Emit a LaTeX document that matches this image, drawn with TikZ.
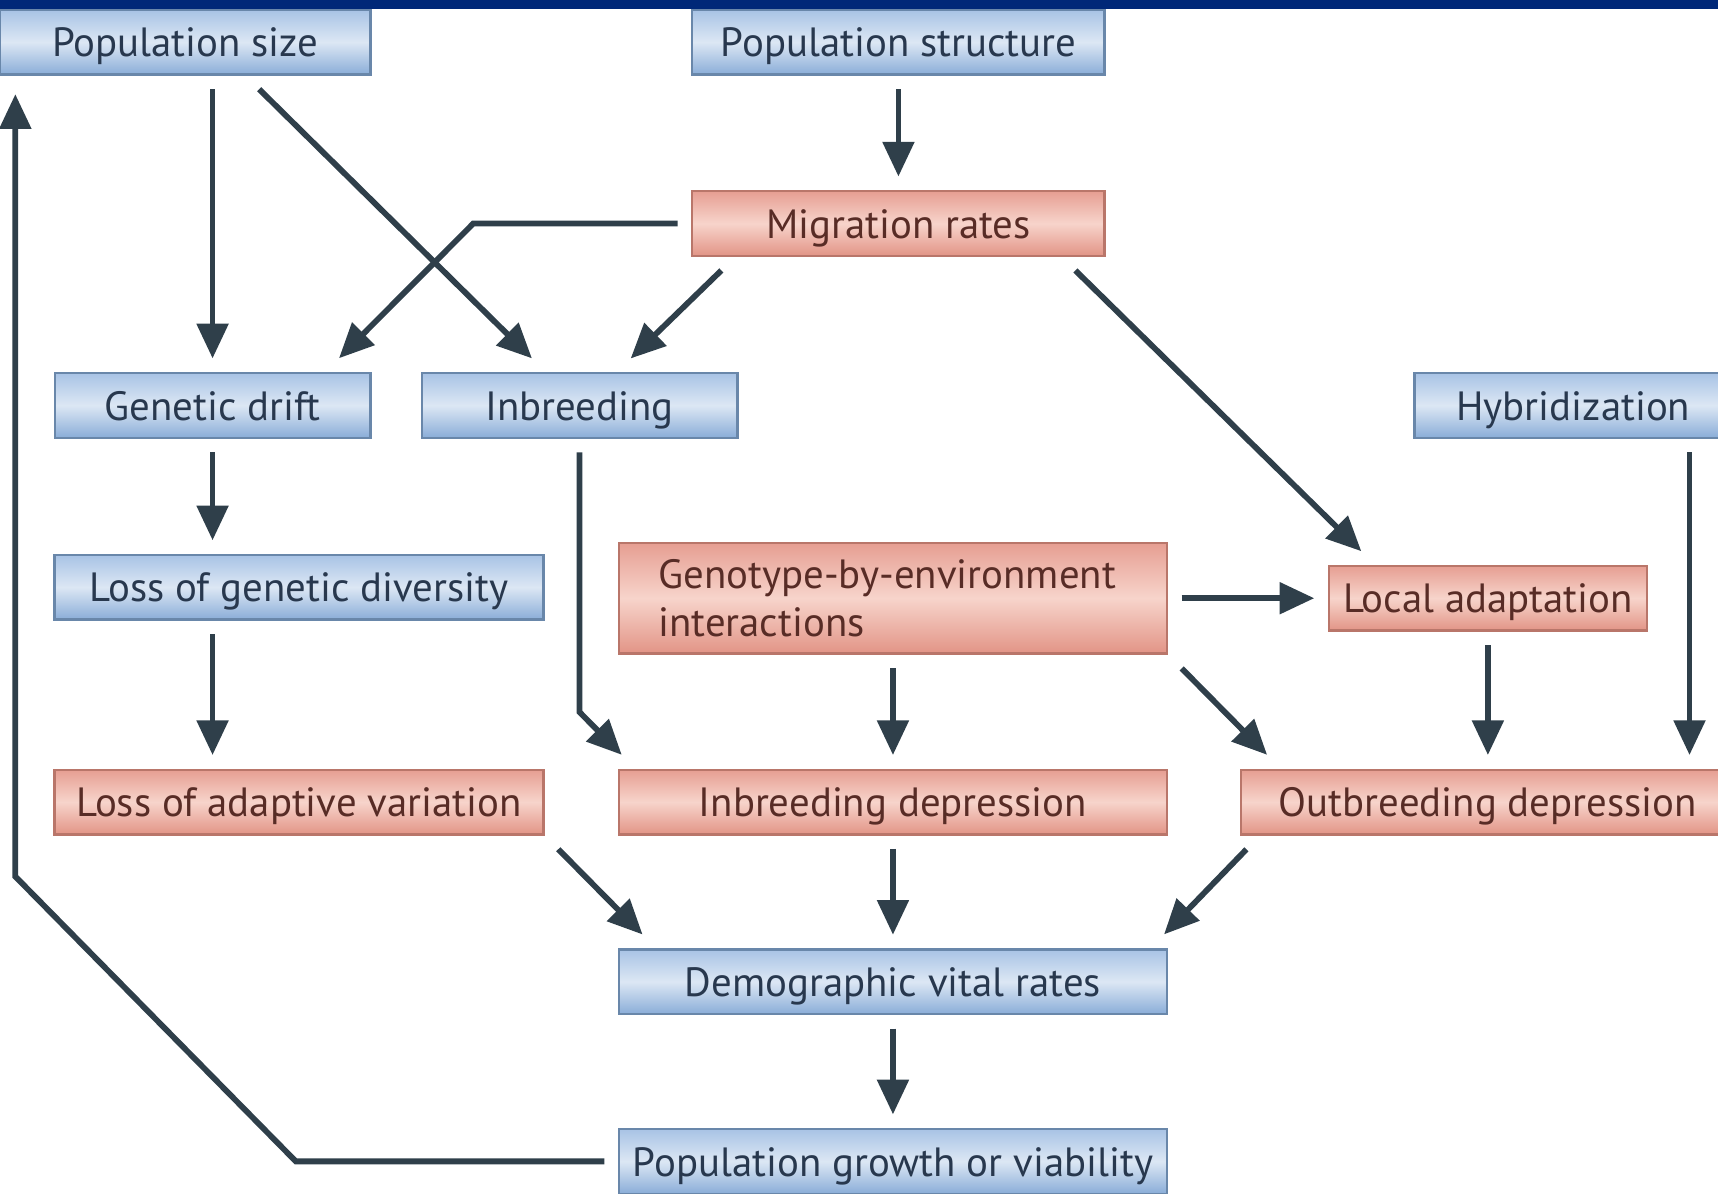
\documentclass[tikz,border=0pt]{standalone}
\usepackage{fontspec}
\setsansfont{PT Sans}
\usetikzlibrary{arrows.meta,calc}

\definecolor{navybar}{RGB}{0,40,120}
\definecolor{arrowgray}{RGB}{47,63,74}
\definecolor{bluetop}{RGB}{168,195,229}
\definecolor{bluemid}{RGB}{220,231,244}
\definecolor{bluebot}{RGB}{138,173,216}
\definecolor{blueedge}{RGB}{105,135,170}
\definecolor{bluetext}{RGB}{40,56,78}
\definecolor{redtop}{RGB}{230,158,146}
\definecolor{redmid}{RGB}{247,212,203}
\definecolor{redbot}{RGB}{226,148,134}
\definecolor{rededge}{RGB}{185,118,106}
\definecolor{redtext}{RGB}{88,44,38}

\begin{document}
\begin{tikzpicture}[thick, x=0.01cm, y=-0.01cm,
  box/.style={draw, line width=0.6pt, inner sep=0pt, minimum height=0.59cm,
    text height=9.2pt, text depth=1.6pt,
    font=\sffamily\fontsize{10.6}{12.5}\selectfont},
  bluebox/.style={box, draw=blueedge, top color=bluetop, bottom color=bluebot,
    middle color=bluemid, text=bluetext},
  redbox/.style={box, draw=rededge, top color=redtop, bottom color=redbot,
    middle color=redmid, text=redtext},
  arr/.style={draw=arrowgray, line width=1.5pt, -{Triangle[length=9pt,width=8pt]},
    shorten <=3.5pt, shorten >=3.5pt},
  diag/.style={shorten <=5pt, shorten >=5pt}]

\useasboundingbox (0,0) rectangle (1568,1089);
\clip (0,0) rectangle (1568,1089);
\fill[white] (0,0) rectangle (1568,1089);
\fill[navybar] (0,0) rectangle (1568,8);

\node[bluebox, minimum width=3.38cm] (popsize) at (169,38.5) {Population size};
\node[bluebox, minimum width=3.76cm] (popstruct) at (820,38.5) {Population structure};
\node[redbox, minimum width=3.76cm] (migration) at (820,204) {Migration rates};

\node[bluebox, minimum width=2.88cm] (drift) at (194,370) {Genetic drift};
\node[bluebox, minimum width=2.88cm] (inbreeding) at (529,370) {Inbreeding};
\node[bluebox, minimum width=2.90cm] (hybrid) at (1436,370) {Hybridization};

\node[bluebox, minimum width=4.46cm] (lossdiv) at (273,536) {Loss of genetic diversity};
\node[redbox, minimum width=5cm, minimum height=1.01cm, text width=4.28cm, align=left,
  text height=, text depth=]
  (gxe) at (815,546) {\mbox{Genotype-by-environment}\\interactions};
\node[redbox, minimum width=2.90cm] (localad) at (1358,546) {Local adaptation};

\node[redbox, minimum width=4.46cm] (lossad) at (273,732) {Loss of adaptive variation};
\node[redbox, minimum width=5cm] (inbdep) at (815,732) {Inbreeding depression};
\node[redbox, minimum width=4.50cm] (outdep) at (1358,732) {Outbreeding depression};

\node[bluebox, minimum width=5cm] (demog) at (815,896) {Demographic vital rates};
\node[bluebox, minimum width=5cm] (growth) at (815,1060) {Population growth or viability};

\coordinate (mbend) at (432,204);
\coordinate (ibend) at (529,650);
\coordinate (hyb) at ($(hybrid.south)+(106,0)$);
\coordinate (fb1) at (270,1060);
\coordinate (fb2) at (14,800);

\draw[arr] (drift |- popsize.south) -- (drift.north);
\draw[arr, diag] ($(popsize.south)+(55,0)$) -- ($(inbreeding.north)+(-31,0)$);
\draw[arr] (popstruct.south) -- (migration.north);
\draw[arr, shorten >=5pt] (migration.west) -- (mbend) -- ($(drift.north)+(103,0)$);
\draw[arr, diag] ($(migration.south)+(-149,0)$) -- ($(inbreeding.north)+(34,0)$);
\draw[arr, diag] ($(migration.south)+(149,0)$) -- ($(localad.north)+(-103,0)$);

\draw[arr] (drift.south) -- (drift.south |- lossdiv.north);
\draw[arr] (lossdiv.south -| drift) -- (lossad.north -| drift);
\draw[arr, shorten >=5pt] (inbreeding.south) -- (ibend) -- ($(inbdep.north west)+(16,0)$);
\draw[arr] (gxe.east) -- (localad.west);
\draw[arr] (gxe.south) -- (inbdep.north);
\draw[arr, diag] (gxe.south east) -- ($(outdep.north west)+(37,0)$);
\draw[arr] (localad.south) -- (localad.south |- outdep.north);
\draw[arr] (hyb) -- (hyb |- outdep.north);

\draw[arr, diag] (lossad.south east) -- ($(demog.north west)+(35,0)$);
\draw[arr] (inbdep.south) -- (demog.north);
\draw[arr, diag] ($(outdep.south west)+(18,0)$) -- ($(demog.north east)+(-16,0)$);
\draw[arr] (demog.south) -- (growth.north);

\draw[arr, shorten >=4.8pt] (growth.west) -- (fb1) -- (fb2) -- (fb2 |- popsize.south);
\end{tikzpicture}
\end{document}
